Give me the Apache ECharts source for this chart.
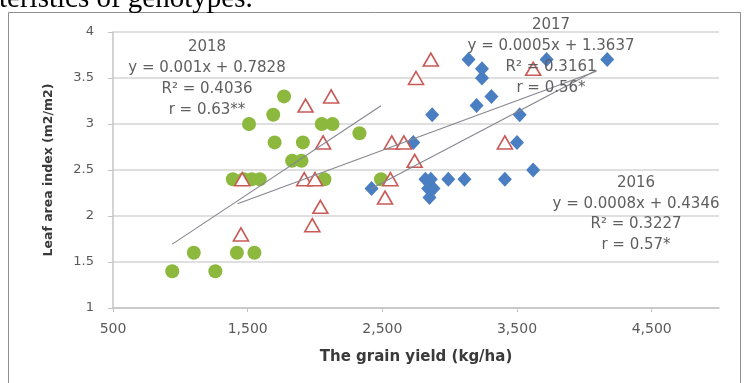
<!DOCTYPE html>
<html>
<head>
<meta charset="utf-8">
<script src="https://cdn.jsdelivr.net/npm/echarts@6/dist/echarts.min.js"></script>
<style>
  html, body { margin: 0; padding: 0; background: #fff; }
  #chart { width: 752px; height: 383px; }
</style>
</head>
<body>
<div id="chart"></div>
<script>
// Grain yield (kg/ha) against leaf area index (m2/m2), three seasons
const yield2016 = [2420, 2730, 2870, 2820, 2860, 2880, 2850, 2840, 2990, 3110, 3410, 3620, 3500, 3520, 3200, 3310, 3240, 3240, 3140, 3720, 4170];
const lai2016   = [2.3,  2.8,  3.1,  2.4,  2.4,  2.3,  2.2,  2.3,  2.4,  2.4,  2.4,  2.5,  2.8,  3.1,  3.2,  3.3,  3.5,  3.6,  3.7,  3.7,  3.7];

const yield2017 = [1450, 1460, 1920, 2000, 1980, 2040, 1930, 2120, 2060, 2520, 2560, 2570, 2660, 2740, 2750, 2860, 3410, 3620];
const lai2017   = [1.8,  2.4,  2.4,  2.4,  1.9,  2.1,  3.2,  3.3,  2.8,  2.2,  2.4,  2.8,  2.8,  2.6,  3.5,  3.7,  2.8,  3.6];

const yield2018 = [940, 1100, 1260, 1420, 1550, 1390, 1470, 1530, 1590, 1510, 1690, 1770, 1700, 1910, 1830, 1900, 2050, 2130, 2330, 2070, 2490];
const lai2018   = [1.4, 1.6,  1.4,  1.6,  1.6,  2.4,  2.4,  2.4,  2.4,  3.0,  3.1,  3.3,  2.8,  2.8,  2.6,  2.6,  3.0,  3.0,  2.9,  2.4,  2.4];

// Linear trends: [2016, 2017, 2018]
const trendSlopes     = [0.00077, 0.00054, 0.00097];
const trendIntercepts = [0.4346, 1.3637, 0.7828];
const trendFrom       = [2420, 1425, 940];
const trendTo         = [4090, 4090, 2490];

// Regression notes printed beside each cloud
const note2016 = ['2016', 'y = 0.0008x + 0.4346', 'R\u00b2 = 0.3227', 'r = 0.57*'];
const note2017 = ['2017', 'y = 0.0005x + 1.3637', 'R\u00b2 = 0.3161', 'r = 0.56*'];
const note2018 = ['2018', 'y = 0.001x + 0.7828', 'R\u00b2 = 0.4036', 'r = 0.63**'];

const xTicks = [500, 1500, 2500, 3500, 4500];

const pairs = (xs, ys) => xs.map((x, i) => [x, ys[i]]);
const trendLine = (i) => [
  [trendFrom[i], trendSlopes[i] * trendFrom[i] + trendIntercepts[i]],
  [trendTo[i], trendSlopes[i] * trendTo[i] + trendIntercepts[i]]
];

const noteFont = '15px "DejaVu Sans"';
function noteBlock(lines, cx, top, step) {
  return lines.map((t, k) => ({
    type: 'text',
    x: cx,
    y: top + k * step,
    z: 100,
    style: {
      text: t,
      font: noteFont,
      fill: '#5f5f5f',
      align: 'center',
      verticalAlign: 'middle'
    }
  }));
}

const chart = echarts.init(document.getElementById('chart'), null, { renderer: 'canvas' });

chart.setOption({
  backgroundColor: '#ffffff',
  animation: false,
  grid: { left: 113, right: 33, top: 32, bottom: 75, containLabel: false },
  xAxis: {
    type: 'value',
    min: 500,
    max: 5000,
    name: 'The grain yield (kg/ha)',
    nameLocation: 'middle',
    nameGap: 42,
    nameTextStyle: { fontFamily: 'DejaVu Sans', fontWeight: 'bold', fontSize: 15, color: '#3a3a3a' },
    axisLine: { show: true, onZero: false, lineStyle: { color: '#c4c4c4', width: 1.5 } },
    axisTick: { show: true, customValues: xTicks, length: 4, inside: false, lineStyle: { color: '#c4c4c4' } },
    axisLabel: { customValues: xTicks, fontFamily: 'DejaVu Sans', fontSize: 14, color: '#5a5a5a', margin: 14 },
    splitLine: { show: false }
  },
  yAxis: {
    type: 'value',
    min: 1,
    max: 4,
    interval: 0.5,
    name: 'Leaf area index (m2/m2)',
    nameLocation: 'middle',
    nameGap: 58,
    nameTextStyle: { fontFamily: 'DejaVu Sans', fontWeight: 'bold', fontSize: 12.5, color: '#3a3a3a' },
    axisLine: { show: true, lineStyle: { color: '#c4c4c4', width: 1.5 } },
    axisTick: { show: true, length: 5, lineStyle: { color: '#c4c4c4' } },
    axisLabel: { fontFamily: 'DejaVu Sans', fontSize: 13, color: '#5a5a5a', margin: 19 },
    splitLine: { show: true, lineStyle: { color: '#d4d4d4', width: 1.5 } }
  },
  graphic: [
    {
      type: 'rect',
      shape: { x: 8.5, y: 12.5, width: 732, height: 400 },
      style: { fill: 'none', stroke: '#8f8f8f', lineWidth: 1 },
      silent: true, z: -1
    },
    {
      type: 'text',
      x: -1,
      y: -15,
      style: { text: 'teristics of genotypes.', font: '29px "Liberation Serif"', fill: '#000', align: 'left', verticalAlign: 'top' }
    },
    ...noteBlock(note2018, 207, 47, 21),
    ...noteBlock(note2017, 551, 25, 21),
    ...noteBlock(note2016, 636, 183, 20.7)
  ],
  series: [
    {
      name: '2018',
      type: 'scatter',
      data: pairs(yield2018, lai2018),
      symbol: 'circle',
      symbolSize: 14,
      itemStyle: { color: '#8cb83e', opacity: 1 },
      z: 2
    },
    {
      name: '2016',
      type: 'scatter',
      data: pairs(yield2016, lai2016),
      symbol: 'diamond',
      symbolSize: [14, 15],
      itemStyle: { color: '#4a7ec2', opacity: 1 },
      z: 3
    },
    {
      name: '2017',
      type: 'scatter',
      data: pairs(yield2017, lai2017),
      symbol: 'triangle',
      symbolSize: [15, 13],
      itemStyle: { color: '#ffffff', borderColor: '#c85a58', borderWidth: 1.6, opacity: 1 },
      z: 4
    },
    ...[0, 1, 2].map((i) => ({
      name: 'trend' + i,
      type: 'line',
      data: trendLine(i),
      symbol: 'none',
      lineStyle: { color: '#868690', width: 1.1 },
      z: 5,
      silent: true
    }))
  ]
});
</script>
</body>
</html>
